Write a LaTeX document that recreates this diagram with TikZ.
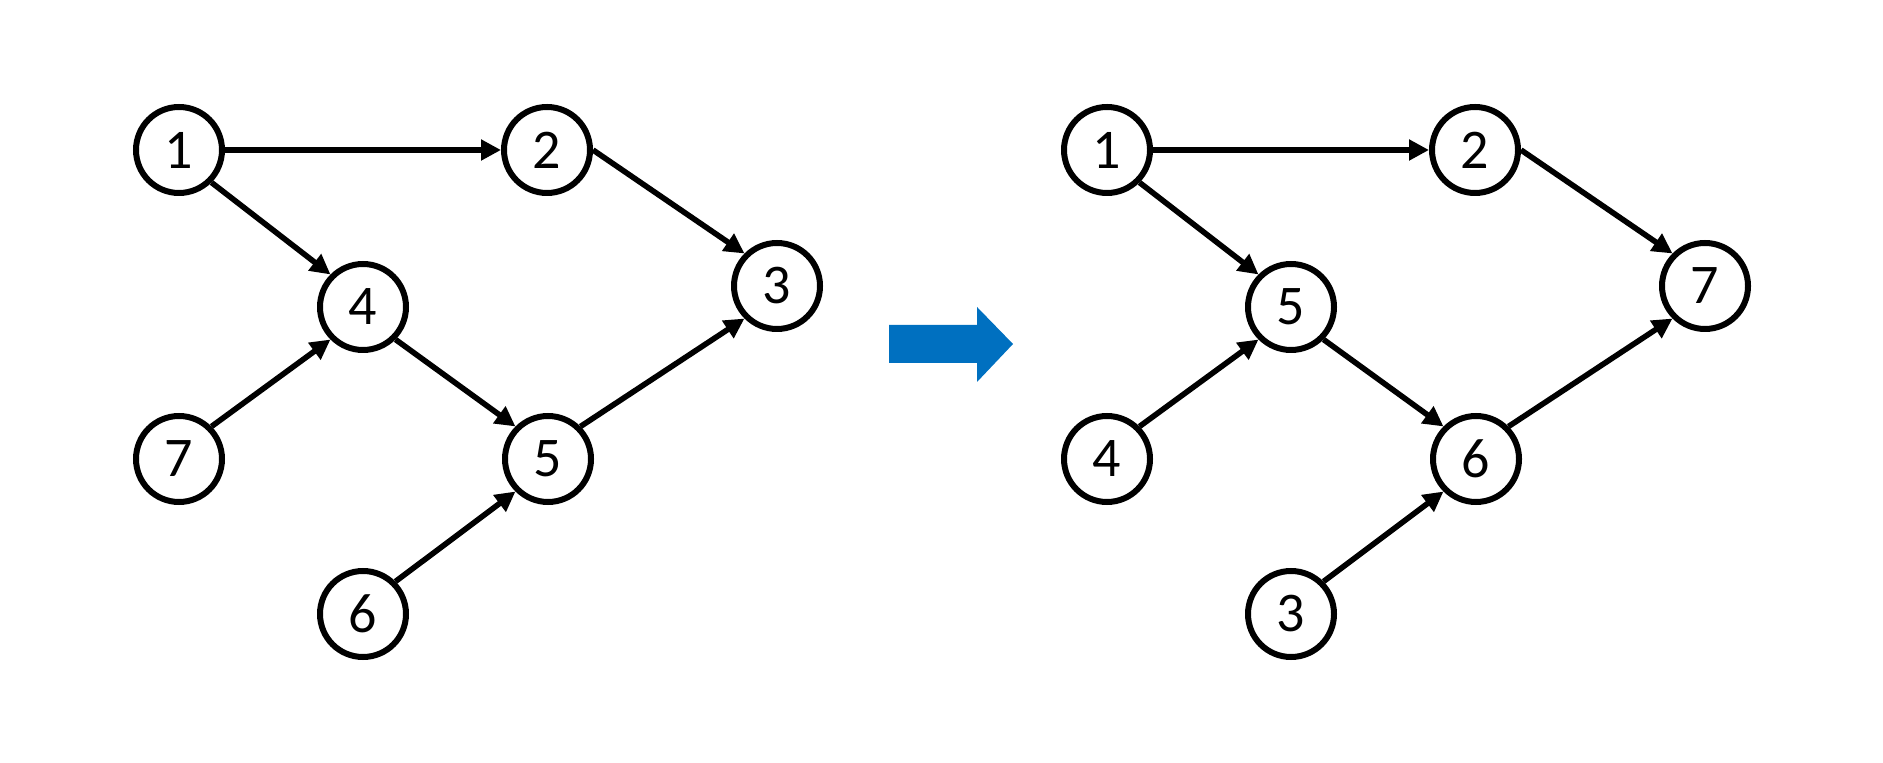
\documentclass[tikz,border=0pt]{standalone}
\usepackage{fontspec}
\setmainfont{Carlito}
\usetikzlibrary{arrows.meta}
\definecolor{arrowblue}{HTML}{0070C0}

\begin{document}
\begin{tikzpicture}[x=0.5pt, y=-0.5pt, vertex/.style={circle, draw, line width=3pt, minimum size=43pt, inner sep=0pt, font=\fontsize{28}{28}\selectfont}, >={Triangle[length=10pt, width=10pt]}]
\useasboundingbox (0,0) rectangle (1883,763);

% left graph
\foreach \l/\x/\y in {1/179/150, 2/547/150, 3/777/286, 4/363/307, 5/548/459, 7/179/459, 6/363/614}{
\node[vertex](L\l) at (\x,\y){\l};
}
\foreach \a/\p/\b/\q in {1/east/2/west, 1/south east/4/north west, 2/east/3/north west, 4/south east/5/north west, 7/north east/4/south west, 5/north east/3/south west, 6/north east/5/south west}{
\draw[->, line width=2.8pt] (L\a.\p) -- (L\b.\q);
}

% right graph
\foreach \l/\x/\y in {1/1107/150, 2/1475/150, 7/1705/286, 5/1291/307, 6/1476/459, 4/1107/459, 3/1291/614}{
\node[vertex](R\l) at (\x,\y){\l};
}
\foreach \a/\p/\b/\q in {1/east/2/west, 1/south east/5/north west, 2/east/7/north west, 5/south east/6/north west, 4/north east/5/south west, 6/north east/7/south west, 3/north east/6/south west}{
\draw[->, line width=2.8pt] (R\a.\p) -- (R\b.\q);
}

% block arrow
\fill[arrowblue] (889,325) -- (977,325) -- (977,307) -- (1013,344) -- (977,382) -- (977,363) -- (889,363) -- cycle;
\end{tikzpicture}
\end{document}
